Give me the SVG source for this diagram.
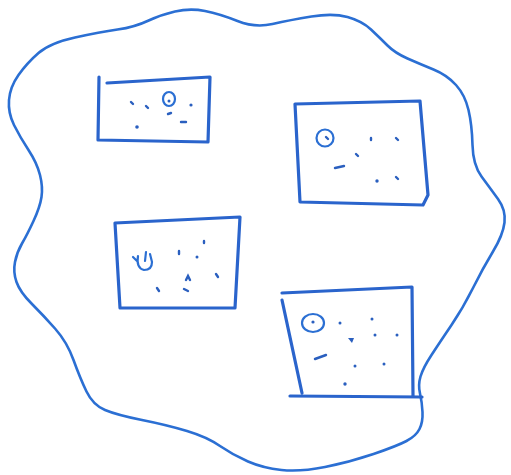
<svg xmlns="http://www.w3.org/2000/svg" width="511" height="475" viewBox="0 0 511 475">
<style>
.ink{fill:none;stroke:#2b6fd3;stroke-linecap:round;stroke-linejoin:round}
.blob{stroke-width:2.6}
.box{stroke-width:3.2;stroke:#2a64cc}
.circ{stroke-width:2.2}
.dot{fill:#2a5fbf}
.dash{fill:none;stroke:#2a5fbf;stroke-width:2.4;stroke-linecap:round}
</style>
<rect width="511" height="475" fill="#ffffff"/>
<g id="outline">
<path class="ink blob" d="M18.5,75 Q27,63 38.5,53 Q50,43 75,37.5 Q100,32 117.5,29.5 Q135,27 147.5,21 Q160,15 175,11.5 Q190,8 205,11 Q220,14 237.5,21 Q255,28 272.5,24 Q290,20 311.5,16.5 Q333,13 347.5,17 Q362,21 371,29.5 Q380,38 387.5,45.5 Q395,53 407.5,58.5 Q420,64 433.5,69.5 Q447,75 456,85 Q465,95 468.5,110 Q472,125 472.5,145 Q473,165 481.5,176.5 Q490,188 498,199 Q506,210 504.5,222.5 Q503,235 493,251.5 Q483,268 473,288 Q463,308 451.5,325 Q440,342 431.5,355 Q423,368 420.5,376.5 Q418,385 420,393.5 Q422,402 422.5,412 Q423,422 419.5,429 Q416,436 406.5,441 Q397,446 373.5,454 Q350,462 325,467 Q300,472 281.5,470 Q263,468 248,461.5 Q233,455 220,446 Q207,437 187,431 Q167,425 142,420 Q117,415 105,410 Q93,405 86.5,391.5 Q80,378 73.5,360 Q67,342 55,328.5 Q43,315 31.5,303.5 Q20,292 16.5,282 Q13,272 15,262 Q17,252 22,243.5 Q27,235 33.5,221 Q40,207 41.5,197 Q43,187 40,175 Q37,163 28.5,150 Q20,137 14,125 Q8,113 9,100 Q10,87 18.5,75 Z"/>
</g>
<g id="box1">
<path class="ink box" d="M107,83 L210,77 L208,142 L98,140 L99,77"/>
<ellipse class="ink circ" cx="169" cy="99" rx="6" ry="7"/>
<circle class="dot" cx="169" cy="101" r="1.5"/>
<path class="dash" d="M131,102 L133,104"/>
<path class="dash" d="M146,106 L148,108"/>
<circle class="dot" cx="191" cy="105" r="1.6"/>
<path class="dash" d="M168,114 L171,113"/>
<path class="dash" d="M181,122 L186,122"/>
<circle class="dot" cx="137" cy="127" r="1.8"/>
</g>
<g id="box2">
<path class="ink box" d="M295,104 L300,202 L423,205 L428,195 L420,101 Z"/>
<circle class="ink circ" cx="325" cy="138" r="8.5"/>
<path class="dash" d="M326,137 L328,139"/>
<path class="dash" d="M371,138 L371,140"/>
<path class="dash" d="M396,138 L398,140"/>
<path class="dash" d="M356,154 L358,156"/>
<path class="dash" d="M335,168 L344,166"/>
<circle class="dot" cx="377" cy="181" r="1.7"/>
<path class="dash" d="M396,177 L398,179"/>
</g>
<g id="box3">
<path class="ink box" d="M115,223 L240,217 L235,308 L120,308 Z"/>
<path class="ink circ" d="M138,256 Q136,268 144,270 Q152,270 152,262 L150,254 M133,257 L137,261 M146,252 L145,261"/>
<path class="dash" d="M204,241 L204,243"/>
<path class="dash" d="M179,251 L179,254"/>
<circle class="dot" cx="197" cy="257" r="1.5"/>
<path class="dash" d="M216,274 L218,277"/>
<path class="dash" d="M186,280 L188,276 L190,280"/>
<path class="dash" d="M157,288 L159,291"/>
<path class="dash" d="M184,289 L188,291"/>
</g>
<g id="box4">
<path class="ink box" d="M282,293 L412,287 L413,395 M282,300 L302,393 M290,396 L422,397"/>
<ellipse class="ink circ" cx="313" cy="323" rx="11" ry="9"/>
<circle class="dot" cx="313" cy="322" r="1.6"/>
<circle class="dot" cx="340" cy="323" r="1.5"/>
<circle class="dot" cx="372" cy="319" r="1.5"/>
<circle class="dot" cx="375" cy="335" r="1.5"/>
<circle class="dot" cx="397" cy="335" r="1.5"/>
<path class="dot" d="M348,338 L354,338 L352,343 Z"/>
<path class="dash" d="M315,359 L326,355"/>
<circle class="dot" cx="355" cy="366" r="1.5"/>
<circle class="dot" cx="384" cy="364" r="1.5"/>
<circle class="dot" cx="345" cy="384" r="1.7"/>
</g>
</svg>
